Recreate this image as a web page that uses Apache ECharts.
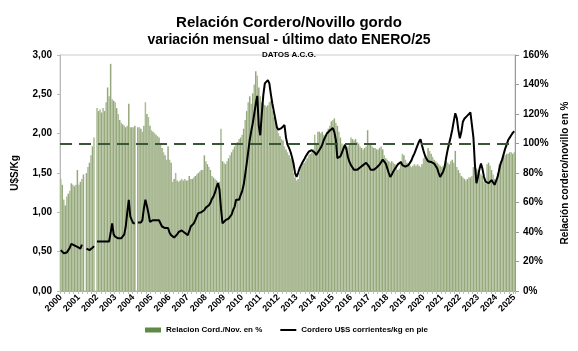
<!DOCTYPE html>
<html>
<head>
<meta charset="utf-8">
<script src="https://cdn.jsdelivr.net/npm/echarts@6/dist/echarts.min.js"></script>
<style>
html,body{margin:0;padding:0;background:#fff;}
#chart{width:578px;height:351px;}
</style>
</head>
<body>
<div id="chart"></div>
<script>
// Years and tick labels
var years = [2000,2001,2002,2003,2004,2005,2006,2007,2008,2009,2010,2011,2012,2013,2014,2015,2016,2017,2018,2019,2020,2021,2022,2023,2024,2025];

// Relación Cordero/Novillo en % (monthly, Jan 2000 - Jan 2025)
var ratio2000 = [76,72,62,58,64,66,68,73,72,71,72,82];
var ratio2001 = [72,74,76,79,null,80,84,87,92,98,104,null];
var ratio2002 = [124,122,123,121,124,122,128,138,132,154,130,129];
var ratio2003 = [128,124,120,116,114,113,112,111,112,127,111,111];
var ratio2004 = [111,112,null,111,111,110,108,112,128,120,118,112];
var ratio2005 = [109,108,107,106,105,104,100,97,94,92,89,98];
var ratio2006 = [89,87,74,76,80,75,74,75,76,75,76,75];
var ratio2007 = [75,78,76,76,77,78,79,80,81,82,82,92];
var ratio2008 = [88,86,84,82,78,77,76,75,74,74,110,88];
var ratio2009 = [87,86,88,90,92,94,96,98,100,101,103,104];
var ratio2010 = [106,110,116,122,128,132,127,134,140,149,146,138];
var ratio2011 = [132,128,127,126,125,126,128,129,122,118,114,111];
var ratio2012 = [107,105,103,102,98,96,94,92,90,89,80,77];
var ratio2013 = [75,76,80,84,86,87,88,90,92,93,94,96];
var ratio2014 = [106,100,108,108,107,108,106,105,108,110,112,115];
var ratio2015 = [116,117,114,112,108,104,100,98,97,96,98,100];
var ratio2016 = [104,103,102,103,101,100,98,97,96,97,98,109];
var ratio2017 = [100,99,98,97,97,96,96,97,98,96,92,90];
var ratio2018 = [89,88,87,88,87,86,84,82,83,88,93,92];
var ratio2019 = [89,87,86,85,84,85,86,85,86,85,84,86];
var ratio2020 = [90,91,89,97,95,93,91,89,88,87,86,85];
var ratio2021 = [84,85,86,88,87,86,88,89,87,95,84,82];
var ratio2022 = [80,78,77,76,75,76,77,77,78,84,85,83];
var ratio2023 = [82,80,79,78,74,73,86,87,85,82,79,76];
var ratio2024 = [75,80,86,88,90,91,92,93,93,94,94,93];
var ratio2025 = [94];

// Cordero U$S corrientes/kg en pie (monthly)
var price2000 = [0.52,0.50,0.48,0.46,0.49,0.52,0.55,0.60,0.59,0.58,0.57,0.56];
var price2001 = [0.55,0.54,0.59,null,null,0.54,0.53,0.52,0.54,0.55,0.57,null];
var price2002 = [0.63,0.63,0.63,0.63,0.63,0.63,0.63,0.63,0.63,0.74,0.86,0.72];
var price2003 = [0.69,0.67,0.67,0.67,0.67,0.67,0.72,0.82,1.00,1.16,0.95,0.90];
var price2004 = [0.86,0.86,null,0.87,0.87,0.87,0.90,1.05,1.16,1.08,0.99,0.88];
var price2005 = [0.89,0.90,0.90,0.90,0.90,0.90,0.89,0.82,0.80,0.80,0.80,0.80];
var price2006 = [0.74,0.71,0.69,0.68,0.67,0.72,0.75,0.76,0.77,0.76,0.74,0.73];
var price2007 = [0.71,0.76,0.82,0.84,0.86,0.90,0.95,0.99,1.00,1.00,1.01,1.03];
var price2008 = [1.06,1.08,1.09,1.12,1.17,1.20,1.25,1.32,1.37,1.29,1.05,0.86];
var price2009 = [0.84,0.90,0.92,0.92,0.92,0.97,1.03,1.07,1.16,1.15,1.16,1.22];
var price2010 = [1.27,1.35,1.48,1.62,1.77,1.92,2.03,2.13,2.25,2.38,2.48,2.10];
var price2011 = [1.98,2.25,2.49,2.64,2.66,2.68,2.64,2.50,2.38,2.28,2.18,2.08];
var price2012 = [2.05,2.06,2.07,2.09,2.11,1.95,1.86,1.82,1.77,1.70,1.62,1.50];
var price2013 = [1.45,1.50,1.56,1.60,1.64,1.67,1.71,1.74,1.77,1.78,1.79,1.79];
var price2014 = [1.76,1.73,1.76,1.79,1.82,1.86,1.92,1.96,2.00,2.02,2.04,2.06];
var price2015 = [2.07,2.02,1.92,1.69,1.70,1.71,1.76,1.81,1.86,1.80,1.70,1.64];
var price2016 = [1.60,1.57,1.54,1.54,1.54,1.55,1.57,1.58,1.60,1.62,1.63,1.64];
var price2017 = [1.58,1.54,1.54,1.54,1.55,1.57,1.59,1.61,1.64,1.67,1.69,1.62];
var price2018 = [1.56,1.50,1.45,1.48,1.52,1.55,1.58,1.61,1.63,1.64,1.60,1.58];
var price2019 = [1.58,1.59,1.60,1.61,1.66,1.71,1.75,1.80,1.85,1.90,1.93,1.85];
var price2020 = [1.78,1.72,1.68,1.65,1.64,1.64,1.63,1.62,1.62,1.56,1.50,1.45];
var price2021 = [1.46,1.52,1.58,1.70,1.80,1.88,1.96,2.05,2.16,2.26,2.20,2.05];
var price2022 = [1.94,2.02,2.15,2.19,2.21,2.23,2.25,2.27,2.28,1.95,1.60,1.37];
var price2023 = [1.45,1.55,1.62,1.55,1.45,1.39,1.38,1.37,1.39,1.41,1.38,1.35];
var price2024 = [1.33,1.45,1.54,1.62,1.67,1.74,1.81,1.86,1.92,1.95,1.98,2.01];
var price2025 = [2.03];

var leftTicks = [0, 0.5, 1, 1.5, 2, 2.5, 3];
var rightTicks = [0, 20, 40, 60, 80, 100, 120, 140, 160];
var referenceLevel = 100;

var ratio = [].concat(ratio2000,ratio2001,ratio2002,ratio2003,ratio2004,ratio2005,ratio2006,ratio2007,ratio2008,ratio2009,ratio2010,ratio2011,ratio2012,ratio2013,ratio2014,ratio2015,ratio2016,ratio2017,ratio2018,ratio2019,ratio2020,ratio2021,ratio2022,ratio2023,ratio2024,ratio2025);
var price = [].concat(price2000,price2001,price2002,price2003,price2004,price2005,price2006,price2007,price2008,price2009,price2010,price2011,price2012,price2013,price2014,price2015,price2016,price2017,price2018,price2019,price2020,price2021,price2022,price2023,price2024,price2025);

var categories = [];
for (var i = 0; i < ratio.length; i++) {
  var y = years[0] + Math.floor(i / 12);
  categories.push(y + '-' + (i % 12 + 1));
}

var font = 'Liberation Sans, Arial, sans-serif';
var chart = echarts.init(document.getElementById('chart'));
chart.setOption({
  animation: false,
  backgroundColor: '#ffffff',
  title: [
    {text: 'Relación Cordero/Novillo gordo', left: 'center', top: 10,
     textStyle: {fontFamily: font, fontSize: 15, fontWeight: 'bold', color: '#000'}},
    {text: 'variación mensual - último dato ENERO/25', left: 'center', top: 28,
     textStyle: {fontFamily: font, fontSize: 14, fontWeight: 'bold', color: '#000'}},
    {text: 'DATOS A.C.G.', left: 'center', top: 46,
     textStyle: {fontFamily: font, fontSize: 8, fontWeight: 'bold', color: '#000'}}
  ],
  grid: {left: 60, right: 60, top: 55, bottom: 60, show: true, borderColor: '#cccccc', borderWidth: 1},
  legend: {
    left: 140, top: 321, itemWidth: 16, itemHeight: 5, itemGap: 18,
    textStyle: {fontFamily: font, fontSize: 8, fontWeight: 'bold', color: '#000'},
    data: [
      {name: 'Relacion Cord./Nov. en %', icon: 'rect', itemStyle: {color: '#5e8a45'}},
      {name: 'Cordero U$S corrientes/kg en pie', icon: 'path://M0,0H32V4H0Z', itemStyle: {color: '#000'}}
    ]
  },
  xAxis: {
    type: 'category', data: categories, boundaryGap: true,
    axisLine: {lineStyle: {color: '#aaaaaa'}},
    axisTick: {show: true, interval: 2, length: 3, lineStyle: {color: '#bbbbbb'}},
    axisLabel: {
      interval: function (idx) { return idx % 12 === 0; },
      formatter: function (v) { return v.split('-')[0]; },
      rotate: 45, fontFamily: font, fontSize: 9, fontWeight: 'bold', color: '#000', margin: 5
    },
    splitLine: {show: false}
  },
  yAxis: [
    {
      type: 'value', min: leftTicks[0], max: leftTicks[leftTicks.length - 1], interval: 0.5,
      name: 'U$S/Kg', nameLocation: 'middle', nameGap: 40, nameRotate: 90,
      nameTextStyle: {fontFamily: font, fontSize: 10, fontWeight: 'bold', color: '#000'},
      axisLine: {show: true, lineStyle: {color: '#bbbbbb'}},
      axisTick: {show: true, length: 3, lineStyle: {color: '#bbbbbb'}},
      axisLabel: {formatter: function (v) { return v.toFixed(2).replace('.', ','); },
        fontFamily: font, fontSize: 10, fontWeight: 'bold', color: '#000', margin: 8},
      splitLine: {show: false}
    },
    {
      type: 'value', min: rightTicks[0], max: rightTicks[rightTicks.length - 1], interval: 20,
      name: 'Relación cordero/novillo en %', nameLocation: 'middle', nameGap: 45, nameRotate: 90,
      nameTextStyle: {fontFamily: font, fontSize: 10, fontWeight: 'bold', color: '#000'},
      axisLine: {show: true, lineStyle: {color: '#999999'}},
      axisTick: {show: true, length: 4, lineStyle: {color: '#999999'}},
      axisLabel: {formatter: '{value}%', fontFamily: font, fontSize: 10, fontWeight: 'bold', color: '#000', margin: 8},
      splitLine: {show: false}
    }
  ],
  series: [
    {
      name: 'Relacion Cord./Nov. en %', type: 'bar', yAxisIndex: 1, data: ratio,
      barWidth: '100%', barCategoryGap: '0%',
      itemStyle: {
        color: function (p) { return p.dataIndex % 2 === 0 ? '#abbb95' : '#96a97c'; }
      },
      markLine: {
        silent: true, symbol: 'none', label: {show: false},
        lineStyle: {color: '#3b5637', width: 2, type: [12, 7]},
        data: [{yAxis: referenceLevel}]
      }
    },
    {
      name: 'Cordero U$S corrientes/kg en pie', type: 'line', yAxisIndex: 0, data: price,
      showSymbol: false, symbol: 'none', connectNulls: false,
      lineStyle: {color: '#000000', width: 2},
      itemStyle: {color: '#000'}
    }
  ]
});
</script>
</body>
</html>
